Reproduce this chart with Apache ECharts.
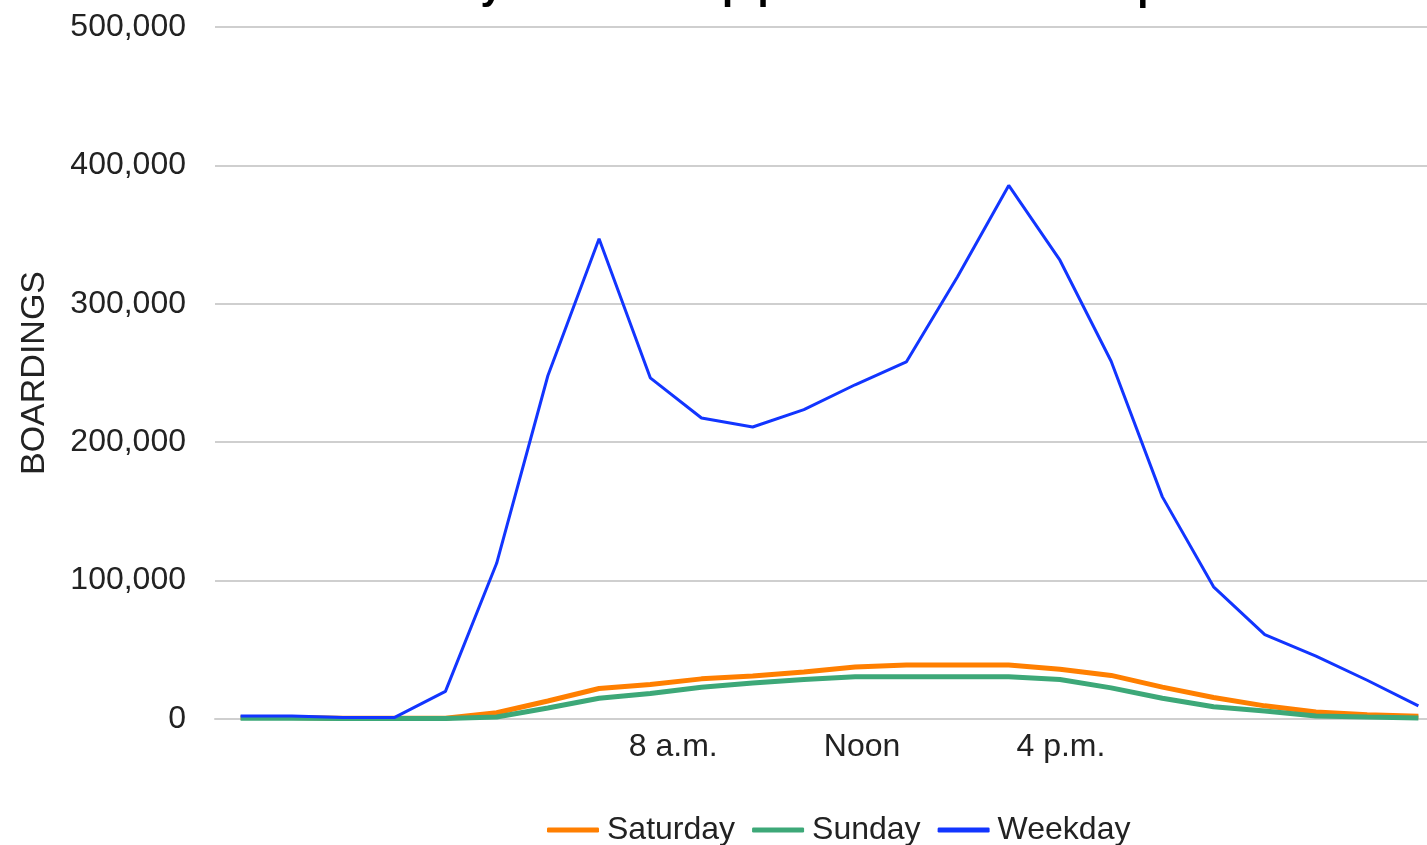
<!DOCTYPE html>
<html>
<head>
<meta charset="utf-8">
<script src="https://cdn.jsdelivr.net/npm/echarts@6/dist/echarts.min.js"></script>
<style>
  html, body { margin: 0; padding: 0; background: #fff; }
  #chart { width: 1427px; height: 845px; }
</style>
</head>
<body>
<div id="chart"></div>
<script>
// Hour-of-day categories (one point per hour)
const hours = [
  '12 a.m.', '1 a.m.', '2 a.m.', '3 a.m.', '4 a.m.', '5 a.m.',
  '6 a.m.', '7 a.m.', '8 a.m.', '9 a.m.', '10 a.m.', '11 a.m.',
  'Noon', '1 p.m.', '2 p.m.', '3 p.m.', '4 p.m.', '5 p.m.',
  '6 p.m.', '7 p.m.', '8 p.m.', '9 p.m.', '10 p.m.', '11 p.m.'
];
// Hours that get a label on the x axis
const shownHours = ['8 a.m.', 'Noon', '4 p.m.'];

// Boardings per hour
const saturday = [1000, 1000, 500, 500, 500, 4500, 13000, 22000, 25000, 29000, 31000, 34000,
  37500, 39000, 39000, 39000, 36000, 31500, 23000, 15500, 9500, 5000, 3000, 2000];
const sunday = [500, 500, 300, 300, 300, 1500, 8000, 15000, 18500, 23000, 26000, 28500,
  30500, 30500, 30500, 30500, 28500, 22500, 15000, 8800, 5800, 2200, 1400, 800];
const weekday = [2200, 2200, 1000, 1000, 20000, 112500, 248000, 347000, 246500, 217500, 211000, 223500,
  241500, 258000, 319500, 385500, 331500, 258500, 160500, 95500, 61000, 45500, 28000, 9500];

// Value axis ticks
const yMin = 0, yMax = 500000, yStep = 100000;

const font = 'Liberation Sans, Arial, sans-serif';
const chart = echarts.init(document.getElementById('chart'), null, { renderer: 'canvas' });

chart.setOption({
  backgroundColor: '#ffffff',
  animation: false,
  graphic: [
    {
      type: 'text', left: 330, top: -32,
      style: { text: 'Weekdays: Two sharp peaks', font: 'bold 40px ' + font, fill: '#000' }
    },
    {
      type: 'text', left: 975, top: -31,
      style: { text: 'Gradual peak', font: 'bold 40px ' + font, fill: '#000' }
    }
  ],
  grid: {
    left: 215, right: -17, top: 27, bottom: 126,
    containLabel: false, outerBoundsMode: 'none'
  },
  legend: {
    top: 809,
    left: 542,
    icon: 'roundRect',
    itemWidth: 52,
    itemHeight: 5,
    itemGap: 17,
    textStyle: { fontFamily: font, fontSize: 32, color: '#222', padding: [0, 0, 0, 3] },
    data: ['Saturday', 'Sunday', 'Weekday']
  },
  xAxis: {
    type: 'category',
    data: hours,
    boundaryGap: true,
    axisLine: { show: true, lineStyle: { color: '#cfcfcf', width: 2 } },
    axisTick: { show: false },
    axisLabel: {
      interval: 0,
      margin: 12,
      color: '#222',
      fontFamily: font,
      fontSize: 32,
      formatter: function (v) {
        const i = shownHours.indexOf(v);
        return i < 0 ? '' : '{t' + i + '|' + v + '}';
      },
      rich: {
        t0: { fontFamily: font, fontSize: 32, color: '#222', padding: [0, 0, 0, 46] },
        t1: { fontFamily: font, fontSize: 32, color: '#222', padding: [0, 0, 0, 14] },
        t2: { fontFamily: font, fontSize: 32, color: '#222', padding: [0, 0, 0, 2] }
      }
    },
    splitLine: { show: false }
  },
  yAxis: {
    type: 'value',
    min: yMin,
    max: yMax,
    interval: yStep,
    name: 'BOARDINGS',
    nameLocation: 'middle',
    nameRotate: 90,
    nameGap: 163,
    nameTextStyle: { fontFamily: font, fontSize: 34, color: '#222' },
    axisLine: { show: false },
    axisTick: { show: false },
    axisLabel: {
      margin: 29,
      color: '#222',
      fontFamily: font,
      fontSize: 32,
      formatter: function (v) { return v.toLocaleString('en-US'); }
    },
    splitLine: { show: true, lineStyle: { color: '#cfcfcf', width: 2 } }
  },
  series: [
    {
      name: 'Saturday', type: 'line', data: saturday, symbol: 'none',
      color: '#FF7F00', lineStyle: { width: 5, color: '#FF7F00' }
    },
    {
      name: 'Sunday', type: 'line', data: sunday, symbol: 'none',
      color: '#3DA878', lineStyle: { width: 5, color: '#3DA878' }
    },
    {
      name: 'Weekday', type: 'line', data: weekday, symbol: 'none',
      color: '#1235FF', lineStyle: { width: 3, color: '#1235FF' }
    }
  ]
});
</script>
</body>
</html>
